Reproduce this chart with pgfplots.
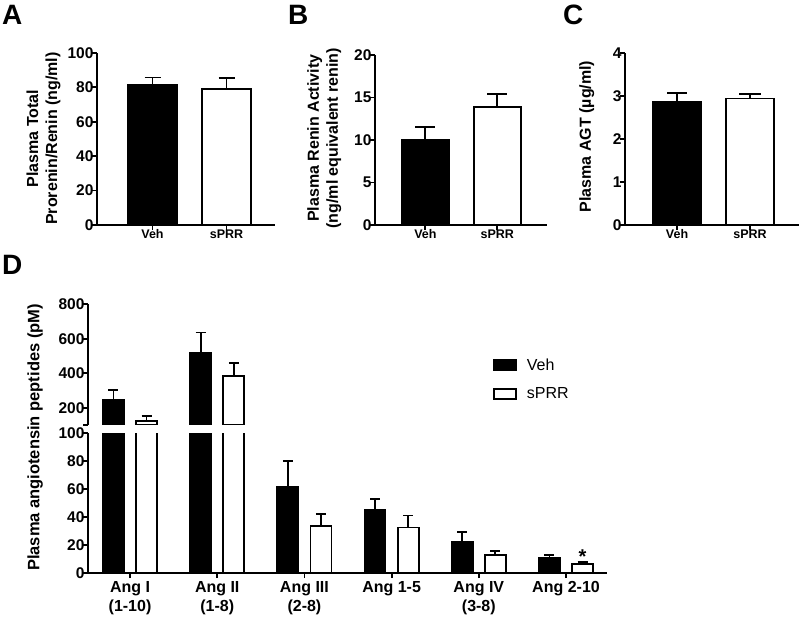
\documentclass[border=0pt]{standalone}
\usepackage{fontspec}
\setmainfont{Liberation Sans}
\usepackage{pgfplots}
\pgfplotsset{compat=1.18}
\pgfplotsset{
  base/.style={
    scale only axis,
    axis x line=bottom, axis y line=left,
    axis line style={line width=1.8pt,-},
    every tick/.style={black, line width=1.8pt},
    major tick length=5pt,
    tick align=outside,
    /pgf/number format/assume math mode=true,
    yticklabel style={font=\bfseries\fontsize{15.5}{15.5}\selectfont, xshift=5pt},
    xticklabel style={font=\bfseries\fontsize{12.5}{13}\selectfont, yshift=4pt},
    ylabel style={font=\bfseries\fontsize{16}{19}\selectfont, align=center},
    enlargelimits=false,
  },
  vehbar/.style={ybar, fill=black, draw=black, line width=1.8pt, bar shift=0pt},
  sprbar/.style={ybar, fill=white, draw=black, line width=1.8pt, bar shift=0pt},
  eb/.style={error bars/.cd, y dir=plus, y explicit,
    error bar style={line width=1.8pt, black},
    error mark options={rotate=90, black, line width=1.8pt, mark size=#1}},
}
\begin{document}
\begin{tikzpicture}[x=1pt,y=1pt]
\path[use as bounding box] (0,0) rectangle (800,618);
\node[anchor=base west, font=\bfseries\fontsize{28}{28}\selectfont, inner sep=0] at (2,593) {A};
\node[anchor=base west, font=\bfseries\fontsize{28}{28}\selectfont, inner sep=0] at (288,593) {B};
\node[anchor=base west, font=\bfseries\fontsize{28}{28}\selectfont, inner sep=0] at (563,593) {C};
\node[anchor=base west, font=\bfseries\fontsize{28}{28}\selectfont, inner sep=0] at (2,343) {D};

% Panel A
\begin{axis}[base, at={(97pt,393pt)}, anchor=south west, width=178pt, height=172pt,
  xmin=0.25, xmax=2.655, ymin=0, ymax=100, ytick={0,20,...,100},
  xtick={1,2}, xticklabels={Veh,sPRR},
  ylabel={Plasma Total\\Prorenin/Renin (ng/ml)},
  ylabel style={at={(axis description cs:-0.30,0.503)}, anchor=center}]
\addplot[vehbar, bar width=49pt, eb=8pt] coordinates {(1,81.5) +- (0,4.3)};
\addplot[sprbar, bar width=49pt, eb=8pt] coordinates {(2,79.0) +- (0,6.4)};
\end{axis}

% Panel B
\begin{axis}[base, at={(375pt,393pt)}, anchor=south west, width=172pt, height=170pt,
  xmin=0.30, xmax=2.69, ymin=0, ymax=20, ytick={0,5,...,20},
  xtick={1,2}, xticklabels={Veh,sPRR},
  ylabel={Plasma Renin Activity\\(ng/ml equivalent renin)},
  ylabel style={at={(axis description cs:-0.295,0.51)}, anchor=center}]
\addplot[vehbar, bar width=47pt, eb=10pt] coordinates {(1,10.0) +- (0,1.5)};
\addplot[sprbar, bar width=47pt, eb=10pt] coordinates {(2,13.85) +- (0,1.55)};
\end{axis}

% Panel C
\begin{axis}[base, at={(625pt,393pt)}, anchor=south west, width=174pt, height=172pt,
  xmin=0.288, xmax=2.67, ymin=0, ymax=4, ytick={0,1,...,4},
  xtick={1,2}, xticklabels={Veh,sPRR},
  ylabel={Plasma AGT (µg/ml)},
  ylabel style={at={(axis description cs:-0.22,0.515)}, anchor=center}]
\addplot[vehbar, bar width=48pt, eb=10pt] coordinates {(1,2.86) +- (0,0.21)};
\addplot[sprbar, bar width=48pt, eb=11pt] coordinates {(2,2.94) +- (0,0.11)};
\end{axis}

% Panel D lower segment
\begin{axis}[base, at={(88pt,45pt)}, anchor=south west, width=519pt, height=139.7pt,
  xmin=0.518, xmax=6.47, ymin=0, ymax=100, ytick={0,20,...,100},
  xtick={1,...,6},
  xticklabels={Ang I\\(1-10),Ang II\\(1-8),Ang III\\(2-8),Ang 1-5,Ang IV\\(3-8),Ang 2-10},
  xticklabel style={font=\bfseries\fontsize{16}{19}\selectfont, align=center, anchor=north, yshift=-4pt},
  ylabel={Plasma angiotensin peptides (pM)},
  ylabel style={at={(axis description cs:-0.102,0.97)}, anchor=center, font=\bfseries\fontsize{16.5}{19}\selectfont}]
\addplot[vehbar, bar width=21pt] coordinates {(0.81,245) (1.81,521)};
\addplot[sprbar, bar width=21pt] coordinates {(1.19,123) (2.19,384)};
\addplot[vehbar, bar width=21pt, eb=5pt] coordinates {
  (2.81,61.9) +- (0,18.5)
  (3.81,45.2) +- (0,7.8)
  (4.81,22.4) +- (0,6.9)
  (5.81,10.7) +- (0,1.9)};
\addplot[sprbar, bar width=21pt, eb=5pt] coordinates {
  (3.19,33.8) +- (0,8.3)
  (4.19,32.6) +- (0,8.5)
  (5.19,12.6) +- (0,3.3)
  (6.19,6.2) +- (0,1.9)};
\node[font=\bfseries\fontsize{20}{20}\selectfont, anchor=base, inner sep=0] at (axis cs:6.19,6.8) {*};
\end{axis}

% Panel D upper segment
\begin{axis}[base, at={(88pt,193pt)}, anchor=south west, width=519pt, height=120.7pt,
  axis x line=none,
  xmin=0.518, xmax=6.47, ymin=100, ymax=800,
  ytick={100,200,400,600,800}, yticklabels={,200,400,600,800},
  xtick=\empty,
  legend style={at={(rel axis cs:0.775,0.585)}, anchor=north west, draw=none, fill=none,
    font=\fontsize{16}{16}\selectfont, row sep=12pt, column sep=8pt},
  legend cell align=left]
\addplot[vehbar, bar width=21pt, forget plot, eb=5pt] coordinates {(0.81,245) +- (0,58) (1.81,521) +- (0,115)};
\addplot[sprbar, bar width=21pt, forget plot, eb=5pt] coordinates {(1.19,123) +- (0,31) (2.19,384) +- (0,76)};
\addlegendimage{legend image code/.code={\filldraw[fill=black, draw=black, line width=1.5pt] (0pt,-5pt) rectangle (22pt,5pt);}}
\addlegendentry{Veh}
\addlegendimage{legend image code/.code={\filldraw[fill=white, draw=black, line width=1.5pt] (0pt,-5pt) rectangle (22pt,5pt);}}
\addlegendentry{sPRR}
\end{axis}
\end{tikzpicture}
\end{document}
